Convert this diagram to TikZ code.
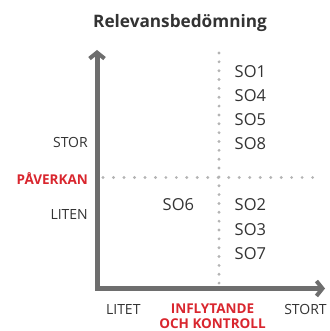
\documentclass[tikz,border=0pt]{standalone}
\usepackage{fontspec}
\setmainfont{Open Sans}
\usetikzlibrary{arrows.meta}
\definecolor{axisgray}{HTML}{6E6E6E}
\definecolor{dotgray}{HTML}{B4B4B4}
\definecolor{txt}{HTML}{333333}
\definecolor{accent}{HTML}{D9262E}
\tikzset{
  axisline/.style={draw=axisgray, line width=5pt, line join=miter,
    {Straight Barb[length=6pt,width=15pt,line width=4pt]}-{Straight Barb[length=6pt,width=15pt,line width=4pt]}},
  dotsv/.style={draw=dotgray, line width=3.2pt, line cap=round, dash pattern=on 0pt off 8.85pt},
  dotsh/.style={draw=dotgray, line width=3.2pt, line cap=round, dash pattern=on 0pt off 10.48pt},
  solabel/.style={font=\fontsize{16.5}{18}\selectfont, text=txt, anchor=base west, inner sep=0pt},
  ticklabel/.style={font=\fontsize{14}{16}\selectfont, text=txt, inner sep=0pt},
  redlabel/.style={font=\fontsize{13.5}{15}\selectfont\bfseries, text=accent, inner sep=0pt},
  titlelabel/.style={font=\fontsize{17.2}{20}\selectfont\bfseries, text=txt, inner sep=0pt, anchor=base}
}
\begin{document}
\begin{tikzpicture}[x=1pt,y=-1pt]
\useasboundingbox (0,0) rectangle (329,331);
% coordinates
\coordinate (ytop) at (97,50);
\coordinate (orig) at (97,288.5);
\coordinate (xend) at (325,288.5);
\coordinate (vt) at (219,53);
\coordinate (vb) at (219,283.1);
\coordinate (hl) at (103,177.5);
\coordinate (hr) at (323,177.5);
% dotted lines
\draw[dotsv] (vt) -- (vb);
\draw[dotsh] (hl) -- (hr);
% axes
\draw[axisline] (ytop) |- (xend);
% title
\node[titlelabel] (title) at (180,27.7) {Relevansbedömning};
% SO labels
\node[solabel] (so1) at (234.5,77.7) {SO1};
\node[solabel] (so4) at (234.5,101.5) {SO4};
\node[solabel] (so5) at (234.5,125) {SO5};
\node[solabel] (so8) at (234.5,149) {SO8};
\node[solabel] (so2) at (234.5,210.7) {SO2};
\node[solabel] (so3) at (234.5,235) {SO3};
\node[solabel] (so7) at (234.5,259) {SO7};
\node[solabel] (so6) at (162.5,210.7) {SO6};
% y-axis labels
\node[ticklabel, anchor=base east] (stor) at (88,147.3) {STOR};
\node[redlabel, anchor=base east] (paverkan) at (88,184) {PÅVERKAN};
\node[ticklabel, anchor=base east] (liten) at (88,219) {LITEN};
% x-axis labels
\node[ticklabel, anchor=base] (litet) at (123.3,314.3) {LITET};
\node[ticklabel, anchor=base] (stort) at (305.5,314.3) {STORT};
\node[redlabel, anchor=base] (infl) at (212.5,313.8) {INFLYTANDE};
\node[redlabel, anchor=base] (ochk) at (212.5,328.8) {OCH KONTROLL};
\end{tikzpicture}
\end{document}
